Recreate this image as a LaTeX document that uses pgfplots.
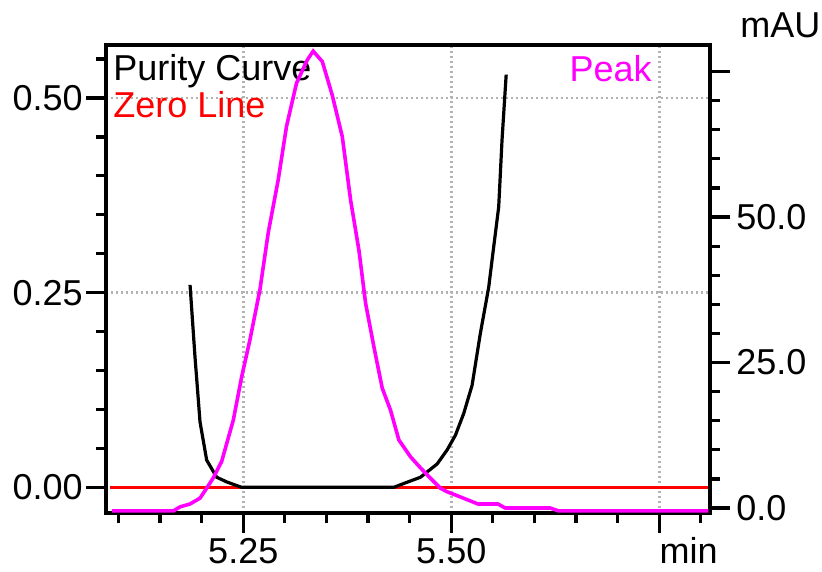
\documentclass[border=0pt]{standalone}
\usepackage{fontspec}
\setmainfont{Liberation Sans}
\usepackage{pgfplots}
\pgfplotsset{compat=1.18}
\definecolor{peak}{RGB}{255,0,255}
\definecolor{zero}{RGB}{255,0,0}

% peak trace (min, mAU)
\pgfplotstableread{
t     v
5.092 -0.5
5.166 -0.5
5.174 0.2
5.186 0.7
5.198 1.7
5.206 3.4
5.214 5.2
5.224 8.0
5.238 15.1
5.248 22.5
5.258 28.9
5.270 37.5
5.280 47.3
5.292 56.4
5.302 65.6
5.314 73.0
5.327 77.0
5.334 78.5
5.345 76.7
5.357 70.9
5.369 63.8
5.379 52.9
5.389 44.3
5.397 35.2
5.407 27.7
5.417 20.6
5.427 16.8
5.437 11.7
5.451 8.8
5.463 6.9
5.473 5.4
5.487 3.4
5.495 2.8
5.511 1.9
5.532 0.7
5.556 0.7
5.565 0.0
5.619 0.0
5.629 -0.5
5.809 -0.5
}\peaktable

% purity curve
\pgfplotstableread{
t     p
5.186 0.260
5.192 0.167
5.198 0.084
5.206 0.035
5.218 0.013
5.230 0.007
5.248 0.000
5.431 0.000
5.443 0.005
5.463 0.013
5.483 0.030
5.495 0.048
5.505 0.067
5.515 0.095
5.525 0.131
5.535 0.198
5.545 0.257
5.551 0.309
5.557 0.360
5.561 0.446
5.566 0.530
}\puritytable

\pgfplotsset{
  chrom/.style={
    width=302pt, height=234pt, scale only axis,
    xmin=5.085, xmax=5.811,
    tick align=outside,
    major tick length=10pt, minor tick length=5pt,
    tick style={black, line width=1.6pt},
    axis line style={line width=1.8pt},
    tick label style={font=\fontsize{18}{21}\selectfont},
  },
}

\begin{document}
\fontsize{18}{21}\selectfont
\begin{tikzpicture}
  \begin{axis}[
      chrom,
      ymin=-0.033, ymax=0.568,
      xtick={5.25,5.5,5.75},
      xticklabels={5.25,5.50,{}},
      minor xtick={5.10,5.15,5.20,5.30,5.35,5.40,5.45,5.55,5.60,5.65,5.70,5.80},
      ytick={0,0.25,0.5},
      yticklabels={0.00,0.25,0.50},
      minor ytick={0.05,0.10,0.15,0.20,0.30,0.35,0.40,0.45,0.55},
      xtick pos=bottom, ytick pos=left,
      x tick label style={inner sep=2.5pt},
      y tick label style={inner sep=1.5pt},
      grid=major,
      grid style={black!30, line width=1.3pt, dash pattern=on 1.2pt off 1.3pt},
      clip=false,
    ]
    \addplot[zero, line width=1.8pt] coordinates {(5.09,0) (5.81,0)};
    \addplot[black, line width=1.6pt] table[x=t, y=p] {\puritytable};

    \node[anchor=base west, inner sep=0, black] at (rel axis cs:0.0116,0.925) {Purity Curve};
    \node[anchor=base west, inner sep=0, zero] at (rel axis cs:0.0116,0.846) {Zero Line};
    \node[anchor=base east, inner sep=0, peak] at (rel axis cs:0.904,0.923) {Peak};
    \node[anchor=base west, inner sep=0] at (rel axis cs:1.0497,1.015) {mAU};
    \node[anchor=base west, inner sep=0] at (axis cs:5.75,-0.0977) {min};

    \coordinate (bbl) at (rel axis cs:-0.1755,-0.1239);
    \coordinate (btr) at (rel axis cs:1.1854,1.0962);
  \end{axis}

  \begin{axis}[
      chrom,
      ymin=-0.86, ymax=79.55,
      axis x line=none,
      axis y line*=right,
      ytick={0,25,50,75},
      yticklabels={0.0,25.0,50.0,{}},
      minor ytick={5,10,15,20,30,35,40,45,55,60,65,70},
      y tick label style={inner sep=3pt},
    ]
    \addplot[peak, line width=1.8pt] table[x=t, y=v] {\peaktable};
  \end{axis}

  \path (bbl) rectangle (btr);
\end{tikzpicture}
\end{document}
